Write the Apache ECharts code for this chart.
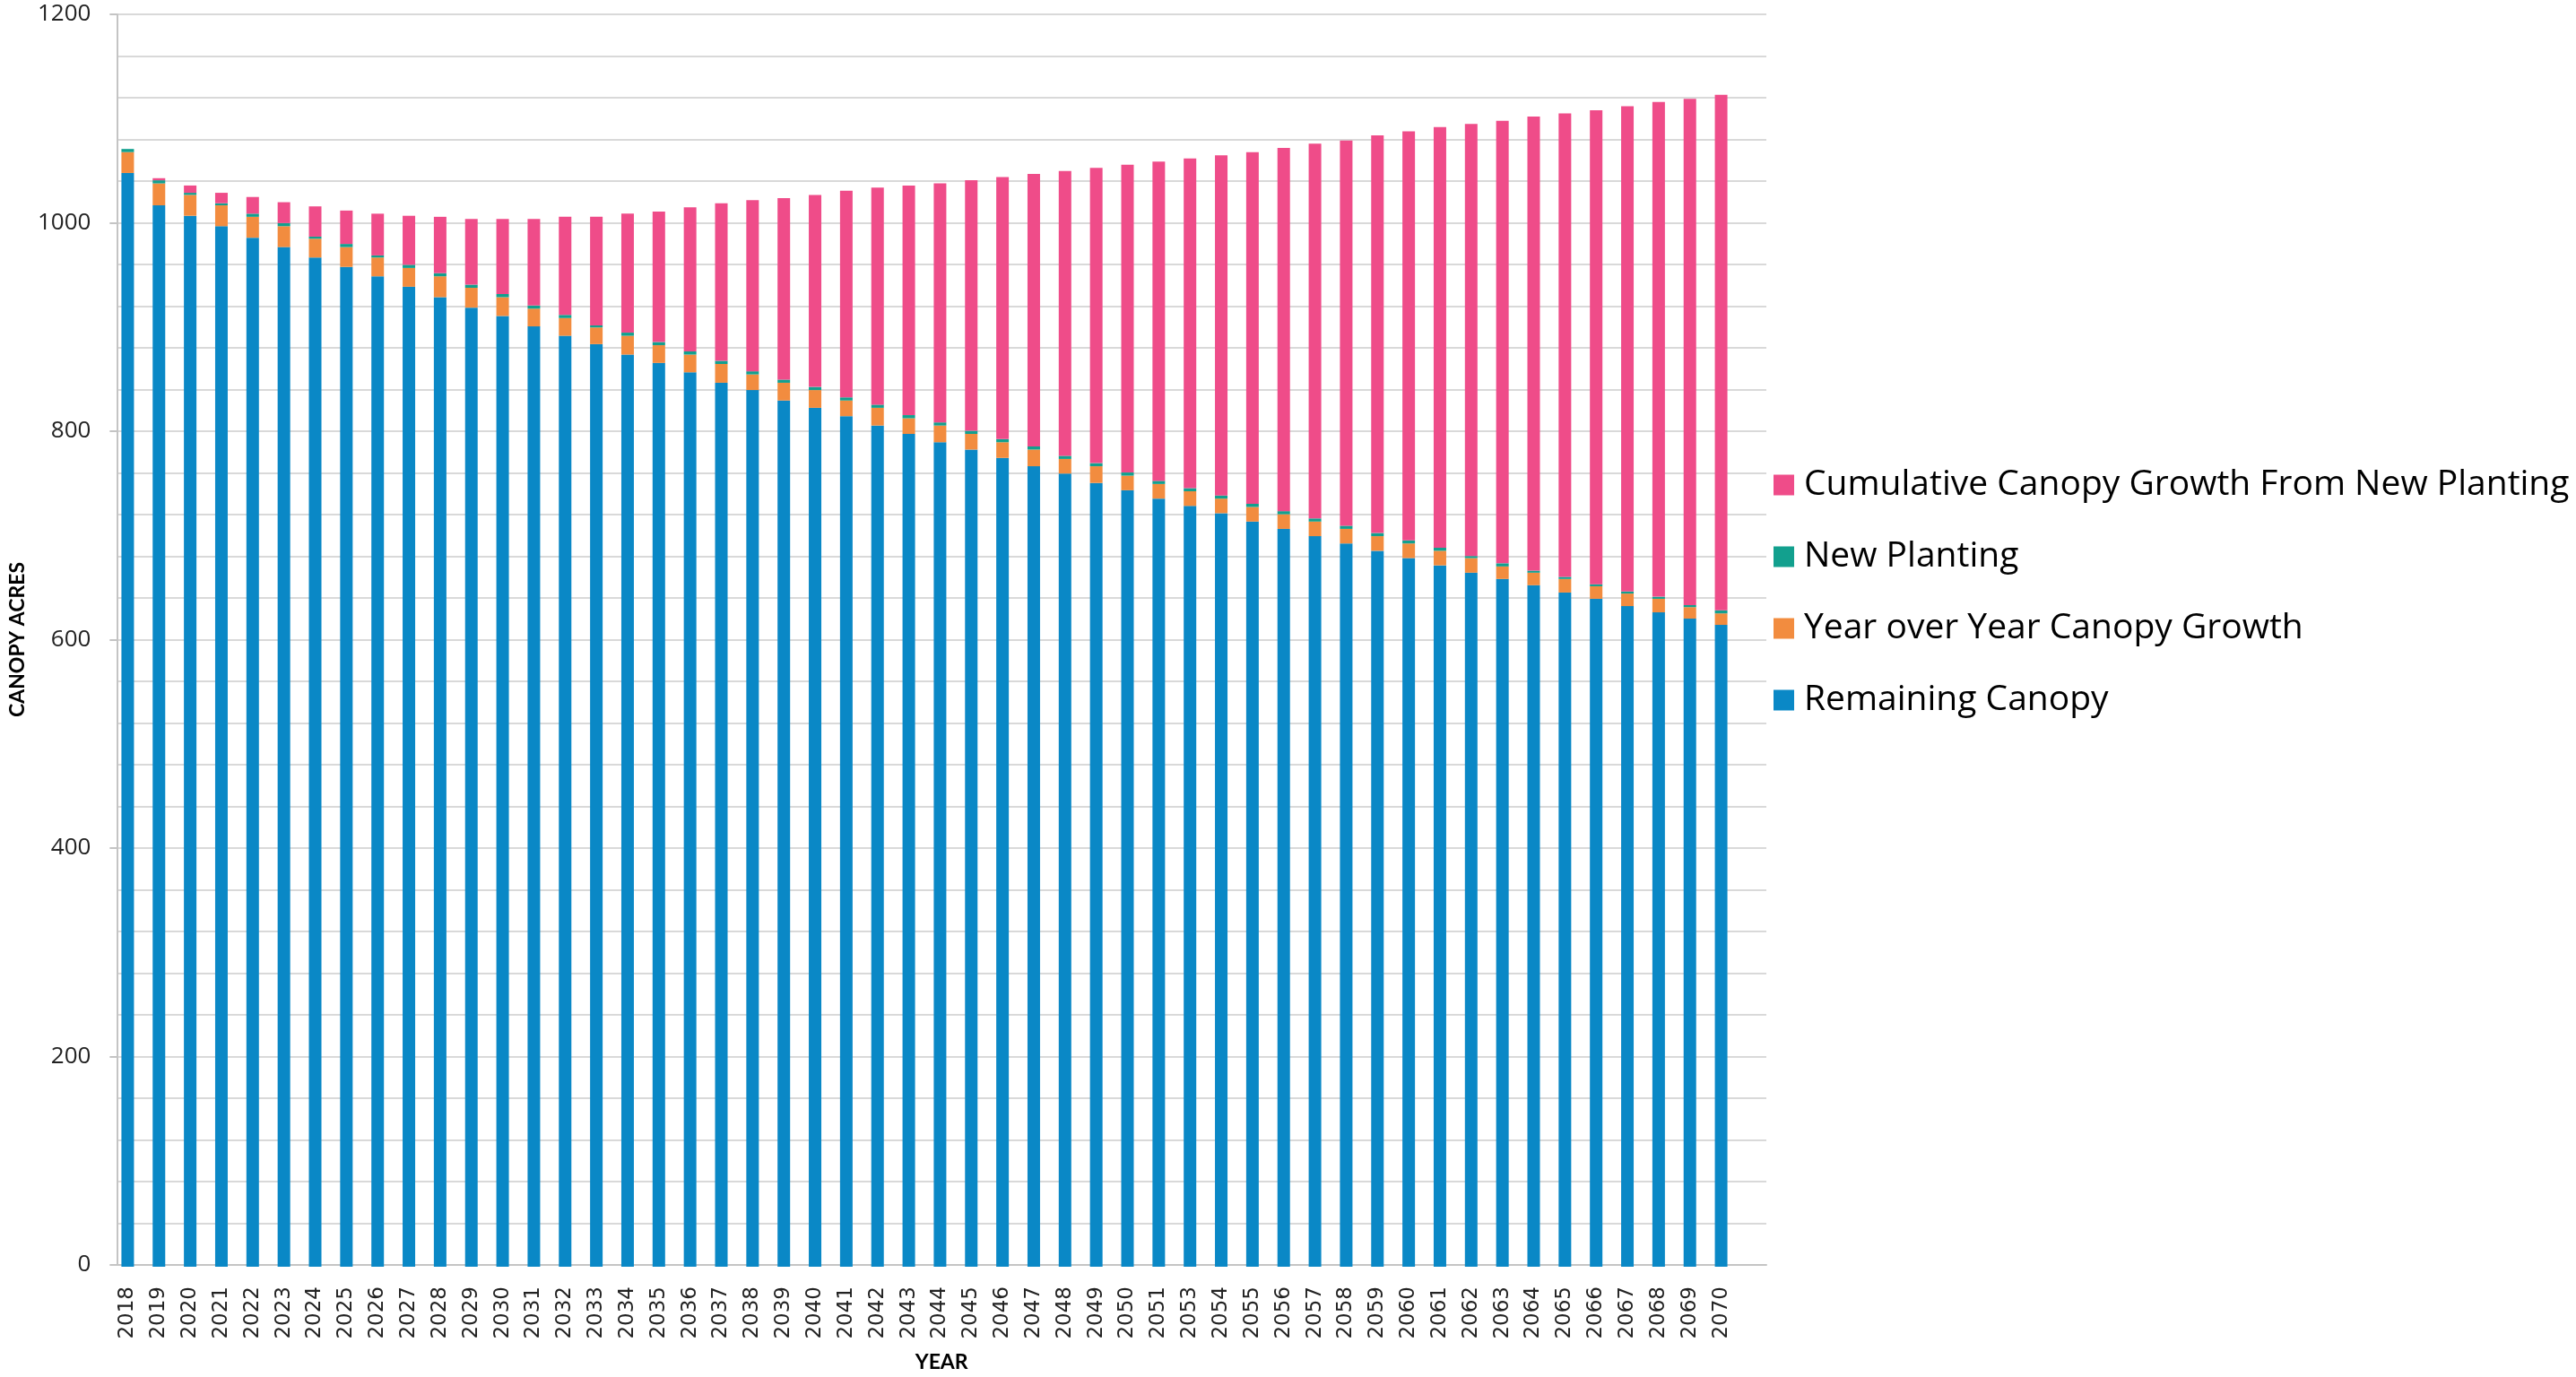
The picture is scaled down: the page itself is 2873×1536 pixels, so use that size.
<!DOCTYPE html>
<html>
<head>
<meta charset="utf-8">
<title>Canopy Acres by Year</title>
<script src="https://cdn.jsdelivr.net/npm/echarts@6/dist/echarts.min.js"></script>
<style>
  html, body { margin: 0; padding: 0; background: #fff; }
  #chart { width: 2873px; height: 1536px; }
</style>
</head>
<body>
<div id="chart"></div>
<script>
// Years on the category axis (2052 is not part of the series)
const years = [
  '2018','2019','2020','2021','2022','2023','2024','2025','2026','2027',
  '2028','2029','2030','2031','2032','2033','2034','2035','2036','2037',
  '2038','2039','2040','2041','2042','2043','2044','2045','2046','2047',
  '2048','2049','2050','2051','2053','2054','2055','2056','2057','2058',
  '2059','2060','2061','2062','2063','2064','2065','2066','2067','2068',
  '2069','2070'
];

// Canopy acres, stacked bottom to top
const remainingCanopy = [
  1048,1017,1007,997,986,977,967,958,949,939,
  929,919,911,901,892,884,874,866,857,847,
  840,830,823,815,806,798,790,783,775,767,
  760,751,744,736,729,722,714,707,700,693,
  686,679,672,665,659,653,646,640,633,627,
  621,615
];
const yearOverYearGrowth = [
  20,21,20,20,20,20,18,19,18,18,
  20,19,18,17,17,16,18,17,17,18,
  15,17,17,15,17,15,16,15,15,16,
  14,16,14,14,14,14,14,14,14,14,
  14,14,14,14,12,12,13,12,12,13,
  11,11
];
const newPlanting = [
  3,3,2,2,3,3,2,3,2,3,
  3,3,3,3,3,2,3,3,3,3,
  3,3,3,3,3,3,3,3,3,3,
  3,3,3,3,3,3,3,3,3,3,
  3,3,3,2,3,2,2,2,2,2,
  2,3
];
const cumulativeGrowth = [
  0,2,7,10,16,20,29,32,40,47,
  54,63,72,83,94,104,114,125,138,151,
  164,174,184,198,208,220,229,240,251,261,
  273,283,295,306,316,326,337,348,359,369,
  381,392,403,414,424,435,444,454,465,474,
  485,494
];

const yTicks = { min: 0, max: 1200, major: 200 };

const COLORS = {
  remaining: '#0A88C6',
  yoy: '#F28C3F',
  planting: '#12A08E',
  cumulative: '#EF4C89'
};

const NAMES = {
  remaining: 'Remaining Canopy',
  yoy: 'Year over Year Canopy Growth',
  planting: 'New Planting',
  cumulative: 'Cumulative Canopy Growth From New Planting'
};

const gridColor = '#d9d9d9';
const axisColor = '#c4c4c4';

function barSeries(name, data, color) {
  return {
    name: name,
    type: 'bar',
    stack: 'canopy',
    xAxisIndex: 1,
    yAxisIndex: 1,
    barWidth: 14,
    data: data,
    itemStyle: { color: color },
    emphasis: { disabled: true }
  };
}

const chart = echarts.init(document.getElementById('chart'), null, { renderer: 'canvas' });

chart.setOption({
  animation: false,
  backgroundColor: '#ffffff',
  grid: [
    // value grid: gridlines, y labels, axis lines
    { left: 125, right: 903, top: 16, bottom: 123 },
    // bar grid
    { left: 125, right: 936, top: 16, bottom: 123 }
  ],
  xAxis: [
    {
      gridIndex: 0,
      type: 'value',
      min: 0,
      max: 1,
      axisLine: { show: true, onZero: false, lineStyle: { color: axisColor, width: 2 } },
      axisTick: { show: false },
      axisLabel: { show: false },
      splitLine: { show: false },
      name: 'YEAR',
      nameLocation: 'middle',
      nameGap: 97,
      nameTextStyle: { fontFamily: 'Lato', fontWeight: 'bold', fontSize: 23, color: '#000' }
    },
    {
      gridIndex: 1,
      type: 'category',
      data: years,
      axisLine: { show: false },
      axisTick: { show: false },
      axisLabel: {
        interval: 0,
        rotate: 90,
        margin: 22,
        fontFamily: 'DejaVu Sans',
        fontSize: 23,
        color: '#222'
      }
    }
  ],
  yAxis: [
    {
      gridIndex: 0,
      type: 'value',
      min: yTicks.min,
      max: yTicks.max,
      interval: yTicks.major,
      axisLine: { show: true, lineStyle: { color: axisColor, width: 2 } },
      axisTick: { show: true, length: 8, lineStyle: { color: axisColor, width: 2 } },
      axisLabel: {
        margin: 29,
        fontFamily: 'Open Sans',
        fontSize: 26,
        color: '#222',
        formatter: function (v) { return String(v); }
      },
      splitLine: { show: true, lineStyle: { color: gridColor, width: 2 } },
      minorTick: { show: false, splitNumber: 5 },
      minorSplitLine: { show: true, lineStyle: { color: gridColor, width: 2 } },
      name: 'CANOPY ACRES',
      nameLocation: 'middle',
      nameGap: 98,
      nameRotate: 90,
      nameTextStyle: { fontFamily: 'Lato', fontWeight: 'bold', fontSize: 23, color: '#000' }
    },
    {
      gridIndex: 1,
      type: 'value',
      min: yTicks.min,
      max: yTicks.max,
      show: false,
      splitLine: { show: false }
    }
  ],
  legend: {
    orient: 'vertical',
    left: 1973,
    top: 516,
    icon: 'rect',
    itemWidth: 23,
    itemHeight: 23,
    itemGap: 40,
    selectedMode: false,
    data: [NAMES.cumulative, NAMES.planting, NAMES.yoy, NAMES.remaining],
    textStyle: {
      fontFamily: 'Open Sans',
      fontSize: 39,
      color: '#000',
      lineHeight: 40,
      padding: [0, 0, 0, 6]
    }
  },
  series: [
    barSeries(NAMES.remaining, remainingCanopy, COLORS.remaining),
    barSeries(NAMES.yoy, yearOverYearGrowth, COLORS.yoy),
    barSeries(NAMES.planting, newPlanting, COLORS.planting),
    barSeries(NAMES.cumulative, cumulativeGrowth, COLORS.cumulative)
  ]
});
</script>
</body>
</html>
